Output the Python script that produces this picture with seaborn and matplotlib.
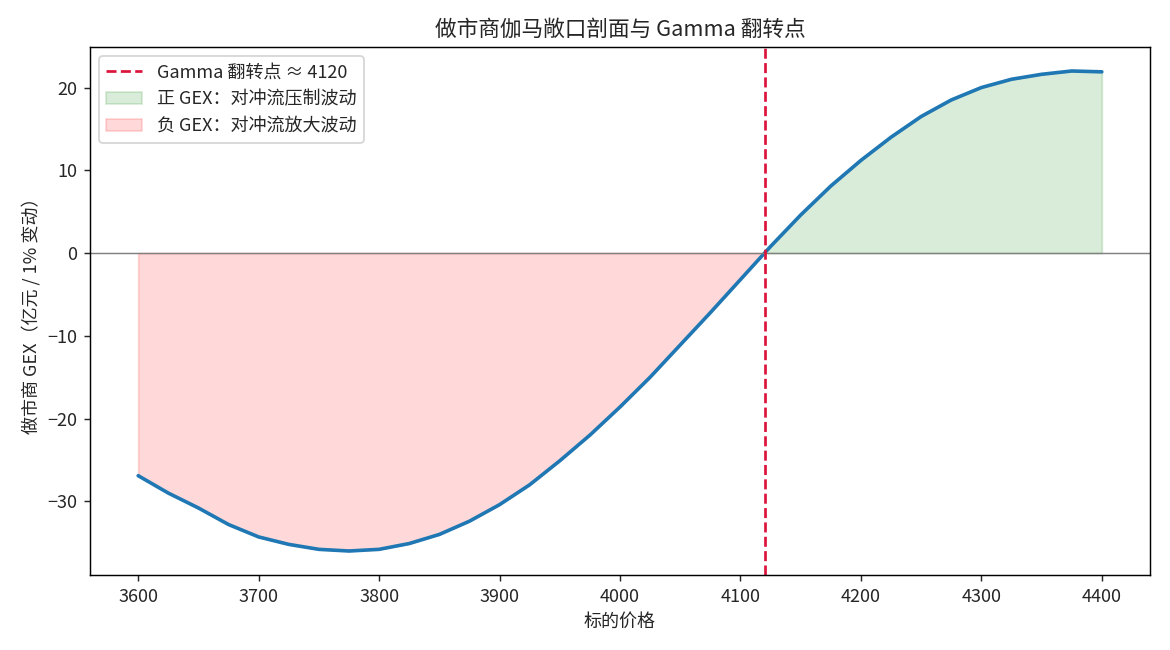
import numpy as np
import pandas as pd
import matplotlib
matplotlib.use("Agg")
import matplotlib.pyplot as plt
import seaborn as sns

# Data
price = [3600, 3625, 3650, 3675, 3700, 3725, 3750, 3775, 3800, 3825, 3850,
         3875, 3900, 3925, 3950, 3975, 4000, 4025, 4050, 4075, 4100, 4125,
         4150, 4175, 4200, 4225, 4250, 4275, 4300, 4325, 4350, 4375, 4400]
gex = [-26.9, -29.0, -30.8, -32.8, -34.3, -35.2, -35.8, -36.0, -35.8, -35.1, -34.0,
       -32.4, -30.4, -28.0, -25.1, -22.0, -18.6, -15.0, -11.1, -7.2, -3.2, 0.8,
       4.6, 8.1, 11.2, 14.0, 16.5, 18.5, 20.0, 21.0, 21.6, 22.0, 21.9]
flip_point = 4120

title = "做市商伽马敞口剖面与 Gamma 翻转点"
xlabel = "标的价格"
ylabel = "做市商 GEX（亿元 / 1% 变动）"
flip_label = f"Gamma 翻转点 ≈ {flip_point}"
pos_label = "正 GEX：对冲流压制波动"
neg_label = "负 GEX：对冲流放大波动"

sns.set_style("ticks")
plt.rcParams["font.family"] = ["Noto Sans CJK SC", "DejaVu Sans"]
plt.rcParams["axes.unicode_minus"] = True

df = pd.DataFrame({"price": price, "gex": gex})
x = np.array(price, dtype=float)
y = np.array(gex, dtype=float)

fig, ax = plt.subplots(figsize=(9, 5), dpi=130)
fig.subplots_adjust(left=90/1170, right=1150/1170, top=1-47/650, bottom=1-575/650)

ax.fill_between(x, y, 0, where=(y >= 0), interpolate=True, color="green", alpha=0.15,
                label=pos_label)
ax.fill_between(x, y, 0, where=(y < 0), interpolate=True, color="red", alpha=0.15,
                label=neg_label)
sns.lineplot(data=df, x="price", y="gex", ax=ax, color="#1f77b4", linewidth=2)
ax.axhline(0, color="gray", linewidth=0.8)
ax.axvline(flip_point, color="crimson", linestyle="--", linewidth=1.5, label=flip_label)

for s in ax.spines.values():
    s.set_visible(True)
    s.set_linewidth(0.8)
    s.set_color("black")

ax.set_title(title, fontsize=12)
ax.set_xlabel(xlabel, fontsize=10)
ax.set_ylabel(ylabel, fontsize=10)
ax.tick_params(labelsize=10)

handles, labels = ax.get_legend_handles_labels()
order = [labels.index(flip_label), labels.index(pos_label), labels.index(neg_label)]
ax.legend([handles[i] for i in order], [labels[i] for i in order], loc="upper left",
          fontsize=10)

fig.savefig("out.png", dpi=130)
